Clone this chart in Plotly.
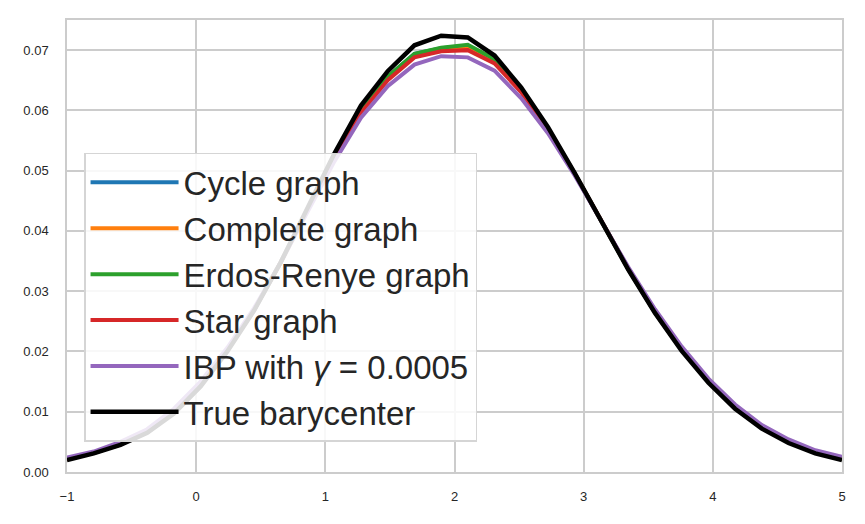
import plotly.graph_objects as go

x_vals = [-1.000, -0.793, -0.586, -0.379, -0.172, 0.034, 0.241, 0.448, 0.655, 0.862,
          1.069, 1.276, 1.483, 1.690, 1.897, 2.103, 2.310, 2.517, 2.724, 2.931,
          3.138, 3.345, 3.552, 3.759, 3.966, 4.172, 4.379, 4.586, 4.793, 5.000]

cycle = [0.0021, 0.0032, 0.0046, 0.0066, 0.0099, 0.0144, 0.0202, 0.0269, 0.0348, 0.0436,
         0.0524, 0.0600, 0.0655, 0.0694, 0.0703, 0.0707, 0.0684, 0.0632, 0.0569, 0.0495,
         0.0415, 0.0337, 0.0265, 0.0203, 0.0150, 0.0107, 0.0074, 0.0050, 0.0033, 0.0022]
complete = [0.0021, 0.0032, 0.0046, 0.0066, 0.0099, 0.0144, 0.0202, 0.0269, 0.0348, 0.0436,
            0.0523, 0.0598, 0.0653, 0.0691, 0.0701, 0.0705, 0.0682, 0.0631, 0.0568, 0.0495,
            0.0415, 0.0337, 0.0265, 0.0203, 0.0150, 0.0107, 0.0074, 0.0050, 0.0033, 0.0022]
erdos = [0.0021, 0.0032, 0.0046, 0.0066, 0.0099, 0.0144, 0.0202, 0.0269, 0.0348, 0.0436,
         0.0524, 0.0601, 0.0656, 0.0694, 0.0704, 0.0709, 0.0685, 0.0633, 0.0569, 0.0495,
         0.0415, 0.0337, 0.0265, 0.0203, 0.0150, 0.0107, 0.0074, 0.0050, 0.0033, 0.0022]
star = [0.0021, 0.0032, 0.0046, 0.0066, 0.0099, 0.0144, 0.0202, 0.0269, 0.0348, 0.0435,
        0.0521, 0.0596, 0.0650, 0.0688, 0.0698, 0.0700, 0.0678, 0.0630, 0.0568, 0.0495,
        0.0415, 0.0338, 0.0266, 0.0204, 0.0151, 0.0108, 0.0075, 0.0051, 0.0034, 0.0023]
ibp = [0.0024, 0.0034, 0.0050, 0.0071, 0.0105, 0.0150, 0.0206, 0.0272, 0.0348, 0.0432,
       0.0515, 0.0588, 0.0640, 0.0676, 0.0690, 0.0688, 0.0666, 0.0620, 0.0562, 0.0492,
       0.0416, 0.0340, 0.0270, 0.0208, 0.0155, 0.0112, 0.0078, 0.0054, 0.0036, 0.0025]
true_bary = [0.0020, 0.0031, 0.0045, 0.0065, 0.0097, 0.0142, 0.0200, 0.0268, 0.0348, 0.0437,
             0.0528, 0.0608, 0.0665, 0.0708, 0.0724, 0.0721, 0.0691, 0.0638, 0.0572, 0.0496,
             0.0415, 0.0336, 0.0264, 0.0201, 0.0148, 0.0105, 0.0072, 0.0048, 0.0031, 0.0020]

series = [
    ("Cycle graph", cycle, "#1f77b4"),
    ("Complete graph", complete, "#ff7f0e"),
    ("Erdos-Renye graph", erdos, "#2ca02c"),
    ("Star graph", star, "#d62728"),
    ("IBP with <i>γ</i> = 0.0005", ibp, "#9467bd"),
    ("True barycenter", true_bary, "#000000"),
]

fig = go.Figure()
for name, ys, color in series:
    fig.add_trace(go.Scatter(
        x=x_vals, y=ys, mode="lines", name=name,
        line=dict(color=color, width=4.5 if color == "#000000" else 4),
    ))

axis_style = dict(
    showgrid=True, gridcolor="#cccccc", gridwidth=1.5,
    showline=True, linecolor="#cccccc", linewidth=1.5, mirror=True,
    zeroline=False, ticks="", automargin=False,
    tickfont=dict(size=13, color="#262626", family="Liberation Sans, Arial, sans-serif"),
)

# the page body has an 8px margin, so the plot box is pulled up/left by that much
fig.update_layout(
    width=865, height=524,
    margin=dict(l=59, r=31, t=12, b=60),
    paper_bgcolor="white", plot_bgcolor="white",
    font=dict(family="Liberation Sans, Arial, sans-serif", color="#262626"),
    xaxis=dict(range=[-1, 5], tickvals=[-1, 0, 1, 2, 3, 4, 5],
               ticktext=["−1", "0", "1", "2", "3", "4", "5"],
               ticklabelstandoff=12, **axis_style),
    yaxis=dict(range=[0, 0.075], tickvals=[0, 0.01, 0.02, 0.03, 0.04, 0.05, 0.06, 0.07],
               tickformat=".2f", ticklabelstandoff=14, **axis_style),
    legend=dict(
        x=0.022, y=0.706, xanchor="left", yanchor="top",
        bgcolor="rgba(255,255,255,0.85)", bordercolor="#d5d5d5", borderwidth=1.5,
        font=dict(size=33, color="#262626", family="Liberation Sans, Arial, sans-serif"),
        itemwidth=88,
    ),
    showlegend=True,
)

fig.write_html("out.html")
